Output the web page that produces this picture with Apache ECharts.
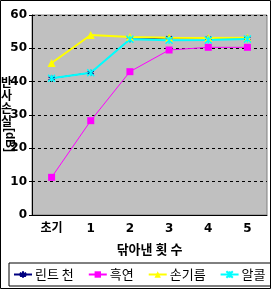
<!DOCTYPE html>
<html><head><meta charset="utf-8">
<script src="https://cdn.jsdelivr.net/npm/echarts@6/dist/echarts.min.js"></script>
<style>html,body{margin:0;padding:0;background:#fff}#c{width:271px;height:289px}</style>
</head><body><div id="c"></div>
<script>
const categories = ['초기', '1', '2', '3', '4', '5'];
const lint = [41, 42.7, 52.7, 53.1, 53, 53];
const graphite = [11.3, 28.3, 43, 49.5, 50.3, 50.3];
const handOil = [45.6, 54, 53.4, 53.2, 53.1, 53.2];
const alcohol = [41, 42.7, 52.7, 52.4, 52.5, 52.8];
const yTicks = [0, 60, 10];
const FONT = '"DejaVu Sans", "Noto Sans CJK KR", sans-serif';
const KFONT = '"Noto Sans CJK KR", sans-serif';
const xMark = 'path://M0 0L10 10M10 0L0 10M5 0L5 10';
const starMark = 'path://M5 0L5 10M0 2.5L10 7.5M0 7.5L10 2.5';

const chart = echarts.init(document.getElementById('c'), null, {renderer: 'canvas'});
chart.setOption({
  animation: false,
  backgroundColor: '#fff',
  grid: {left: 32, right: 4, top: 15, bottom: 74, show: true, backgroundColor: '#C0C0C0', borderColor: '#808080', borderWidth: 1},
  xAxis: {
    type: 'category', data: categories, boundaryGap: true,
    axisLine: {lineStyle: {color: '#000', width: 1}},
    axisTick: {inside: true, length: 3, lineStyle: {color: '#000'}},
    axisLabel: {color: '#000', fontWeight: 'bold', fontSize: 12, fontFamily: FONT, margin: 8},
    name: '닦아낸 횟 수', nameLocation: 'middle', nameGap: 28,
    nameTextStyle: {color: '#000', fontWeight: 'bold', fontSize: 13, fontFamily: KFONT}
  },
  yAxis: {
    type: 'value', min: yTicks[0], max: yTicks[1], interval: yTicks[2],
    axisLine: {show: true, lineStyle: {color: '#000', width: 1}},
    axisTick: {show: true, length: 3, lineStyle: {color: '#000'}},
    axisLabel: {color: '#000', fontWeight: 'bold', fontSize: 12, fontFamily: FONT, margin: 5},
    splitLine: {show: true, lineStyle: {color: '#000', type: [3, 3], width: 1}}
  },
  legend: {
    left: 9, top: 263, padding: [5, 5, 5, 4], itemGap: 14, itemWidth: 18, itemHeight: 8,
    borderColor: '#000', borderWidth: 1, borderRadius: 0,
    textStyle: {color: '#000', fontSize: 13, fontFamily: KFONT, padding: [0, 0, 0, -2]},
    data: ['린트 천', '흑연', '손기름', '알콜']
  },
  graphic: [
    {type: 'rect', shape: {x: 0.5, y: 0.5, width: 270, height: 288}, style: {fill: 'none', stroke: '#000', lineWidth: 1}, z: 100},
    {type: 'text', x: 1, y: 76, style: {text: '반\n사', font: 'bold 12px ' + KFONT, fill: '#000', lineHeight: 13, textVerticalAlign: 'top', textAlign: 'left'}},
    {type: 'text', x: 1, y: 102, style: {text: '손\n실', font: 'bold 12px ' + KFONT, fill: '#000', lineHeight: 13, textVerticalAlign: 'top', textAlign: 'left'}},
    {type: 'text', x: 3, y: 128, rotation: -Math.PI / 2, style: {text: '[dB]', font: 'bold 12px "Liberation Sans", sans-serif', fill: '#000', textVerticalAlign: 'bottom', textAlign: 'left'}}
  ],
  series: [
    {name: '린트 천', type: 'line', data: lint, symbol: starMark, symbolSize: 6,
      lineStyle: {color: '#000080', width: 1}, itemStyle: {color: '#000080', borderColor: '#000080', borderWidth: 1.5}},
    {name: '흑연', type: 'line', data: graphite, symbol: 'rect', symbolSize: 7,
      lineStyle: {color: '#FF00FF', width: 1}, itemStyle: {color: '#FF00FF'}},
    {name: '손기름', type: 'line', data: handOil, symbol: 'triangle', symbolSize: 8,
      lineStyle: {color: '#FFFF00', width: 2}, itemStyle: {color: '#FFFF00'}},
    {name: '알콜', type: 'line', data: alcohol, symbol: xMark, symbolSize: 7,
      lineStyle: {color: '#00FFFF', width: 2}, itemStyle: {color: '#00FFFF', borderColor: '#00FFFF', borderWidth: 1.5}}
  ]
});
</script></body></html>
